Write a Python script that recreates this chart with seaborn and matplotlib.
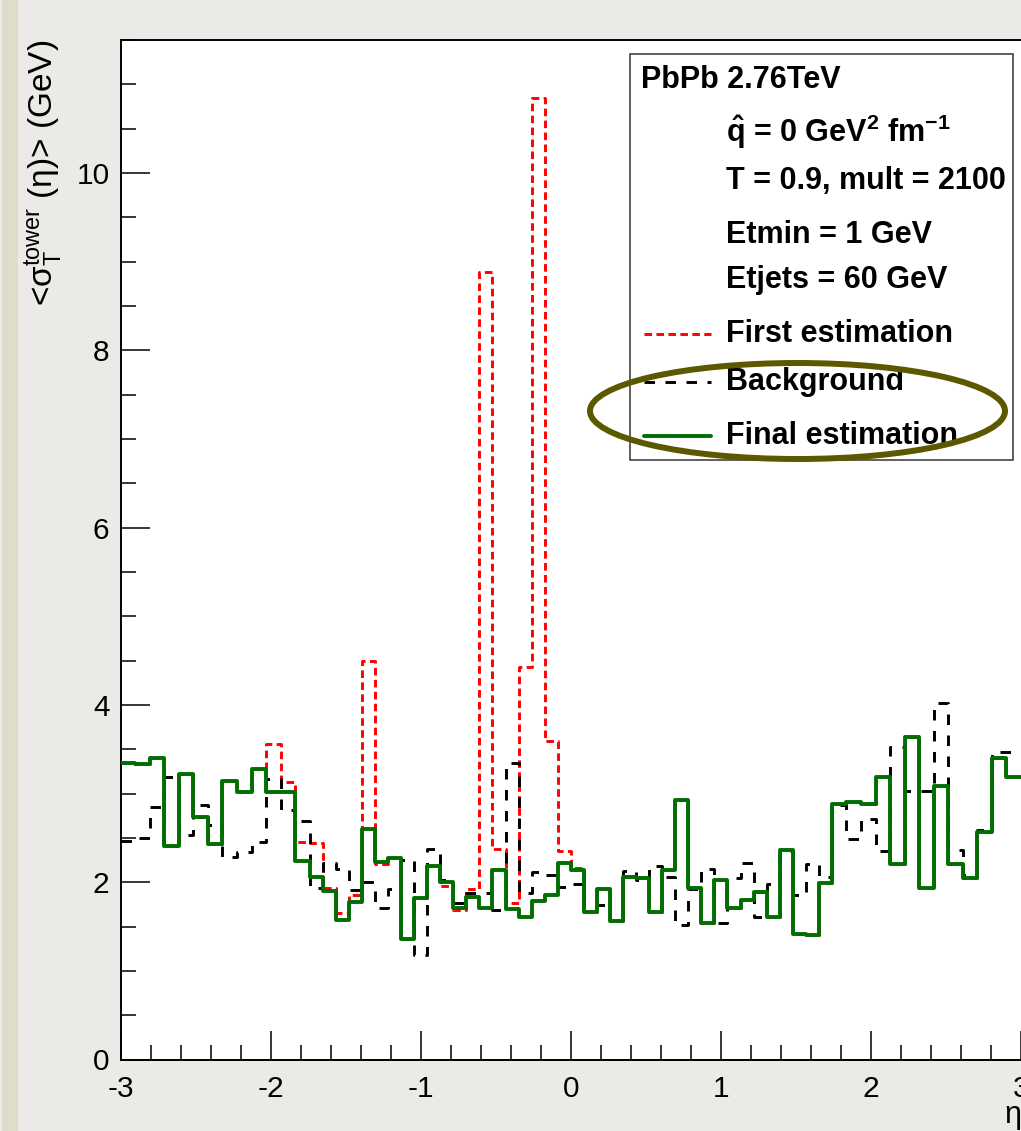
import numpy as np
import pandas as pd
import matplotlib
matplotlib.use("Agg")
import matplotlib.pyplot as plt
import seaborn as sns
from matplotlib.patches import Ellipse, Rectangle
from matplotlib.lines import Line2D
from matplotlib.ticker import MultipleLocator

# ---------------- data ----------------
# tower eta binning: 13 bins in each forward region, 40 central bins of 0.087
eta_edges = np.concatenate([
    np.linspace(-3.0, -1.74, 14),
    np.linspace(-1.74, 1.74, 41)[1:-1],
    np.linspace(1.74, 3.0, 14),
])

final_estimation = [
    3.35, 3.33, 3.40, 2.41, 3.22, 2.73, 2.43, 3.14, 3.02, 3.28,
    3.02, 3.02, 2.24, 2.06, 1.90, 1.57, 1.78, 2.60, 2.23, 2.27,
    1.36, 1.82, 2.18, 2.00, 1.71, 1.83, 1.71, 2.14, 1.70, 1.61,
    1.79, 1.85, 2.22, 2.14, 1.66, 1.92, 1.56, 2.06, 2.05, 1.66,
    2.14, 2.93, 1.93, 1.54, 2.02, 1.71, 1.80, 1.89, 1.61, 2.36,
    1.42, 1.41, 1.99, 2.88, 2.91, 2.88, 3.19, 2.20, 3.64, 1.93,
    3.09, 2.21, 2.05, 2.57, 3.40, 3.19,
]
first_estimation = [
    3.35, 3.33, 3.40, 2.41, 3.22, 2.73, 2.43, 3.14, 3.02, 3.28,
    3.56, 3.13, 2.45, 2.44, 1.93, 1.65, 1.85, 4.50, 2.21, 2.27,
    1.36, 1.82, 2.18, 1.96, 1.69, 1.92, 8.88, 2.38, 1.76, 4.43,
    10.85, 3.59, 2.35, 2.16, 1.66, 1.92, 1.56, 2.06, 2.05, 1.66,
    2.14, 2.93, 1.93, 1.54, 2.02, 1.71, 1.80, 1.89, 1.61, 2.36,
    1.42, 1.41, 1.99, 2.88, 2.91, 2.88, 3.19, 2.20, 3.64, 1.93,
    3.09, 2.21, 2.05, 2.57, 3.40, 3.19,
]
background = [
    2.46, 2.50, 2.85, 3.19, 2.53, 2.87, 2.64, 2.28, 2.34, 2.45,
    3.16, 2.82, 2.69, 1.94, 2.22, 2.15, 1.91, 2.00, 1.71, 1.92,
    2.25, 1.18, 2.38, 2.03, 1.76, 1.88, 1.88, 1.69, 3.35, 1.88,
    2.12, 2.08, 1.95, 1.98, 1.77, 1.74, 1.59, 2.13, 2.03, 2.18,
    2.06, 1.52, 1.92, 2.15, 1.54, 2.05, 2.22, 1.61, 1.98, 2.35,
    1.86, 2.20, 2.06, 2.87, 2.49, 2.71, 2.35, 3.52, 3.03, 3.03,
    4.02, 2.36, 2.08, 2.59, 3.47, 3.47,
]

x_ticks = [-3, -2, -1, 0, 1, 2, 3]
y_ticks = [0, 2, 4, 6, 8, 10]

legend_header = "PbPb 2.76TeV"
legend_info = [
    r"$\mathbf{\hat{q}}$ = 0 GeV$^{\mathbf{2}}$ fm$^{\mathbf{-1}}$",
    "T = 0.9, mult = 2100",
    "Etmin = 1 GeV",
    "Etjets = 60 GeV",
]
series_labels = ["First estimation", "Background", "Final estimation"]


def step_frame(values):
    # histogram outline: value of each bin held from its low edge to the next edge
    return pd.DataFrame({"eta": eta_edges, "value": list(values) + [values[-1]]})


# ---------------- style ----------------
sns.set_theme(style="white")
plt.rcParams["font.family"] = ["Liberation Sans", "DejaVu Sans"]
plt.rcParams["mathtext.fontset"] = "custom"
plt.rcParams["mathtext.rm"] = "Liberation Sans"
plt.rcParams["mathtext.it"] = "Liberation Sans:italic"
plt.rcParams["mathtext.bf"] = "Liberation Sans:bold"
plt.rcParams["mathtext.default"] = "regular"
plt.rcParams["axes.unicode_minus"] = False
plt.rcParams["text.color"] = "black"
plt.rcParams["axes.labelcolor"] = "black"
plt.rcParams["xtick.color"] = "black"
plt.rcParams["ytick.color"] = "black"

W, H = 1021, 1131
fig = plt.figure(figsize=(W / 100, H / 100), dpi=100)
fig.patch.set_facecolor("#ebeae6")


def fx(x):
    return x / W


def fy(y):
    return 1 - y / H


# left decorative strip of the page
fig.add_artist(Rectangle((fx(2), 0), fx(16), 1, transform=fig.transFigure,
                         facecolor="#e0dccc", edgecolor="none", zorder=0))

ax = fig.add_axes([fx(120.6), fy(1059.5), fx(1021.0 - 120.6), fy(40) - fy(1059.5)])
ax.set_facecolor("white")

red_style = dict(color="#ff0000", linewidth=2.1, linestyle=(0, (2.6, 1.5)))
black_style = dict(color="black", linewidth=2.1, linestyle=(0, (3.6, 3.6)))
green_style = dict(color="#006e00", linewidth=2.8, linestyle="-")

for vals, st, z in [(first_estimation, red_style, 2),
                    (background, black_style, 3),
                    (final_estimation, green_style, 4)]:
    sns.lineplot(data=step_frame(vals), x="eta", y="value", estimator=None, sort=False,
                 drawstyle="steps-post", ax=ax, zorder=z, legend=False, **st)

ax.set_xlim(-3, 3)
ax.set_ylim(0, 11.5)
ax.set_xticks(x_ticks)
ax.set_yticks(y_ticks)
ax.xaxis.set_minor_locator(MultipleLocator(0.2))
ax.yaxis.set_minor_locator(MultipleLocator(0.5))
ax.tick_params(axis="both", which="both", direction="in", bottom=True, left=True,
               top=False, right=False, colors="black")
ax.tick_params(axis="both", which="major", length=21, width=1.1, labelsize=21.5)
ax.tick_params(axis="both", which="minor", length=10.5, width=1.1)
ax.tick_params(axis="x", which="major", pad=11)
ax.tick_params(axis="y", which="major", pad=8)
ax.set_xlabel("")
ax.set_ylabel("")
for side in ["left", "bottom", "top"]:
    ax.spines[side].set_visible(True)
    ax.spines[side].set_color("black")
    ax.spines[side].set_linewidth(1.4)
ax.spines["right"].set_visible(False)

# axis titles (ROOT style, at the axis ends)
fig.text(fx(44), fy(40), r"<$\sigma_{T}^{tower}$ ($\eta$)> (GeV)", rotation=90,
         ha="center", va="top", fontsize=24)
fig.text(fx(1021), fy(1102), r"$\eta$", ha="right", va="top", fontsize=22)

# ---------------- legend box ----------------
fig.add_artist(Rectangle((fx(630), fy(460)), fx(1013 - 630), fy(54) - fy(460),
                         transform=fig.transFigure, facecolor="white",
                         edgecolor="#333333", linewidth=1.1, zorder=10))
fig.text(fx(641), fy(80), legend_header, ha="left", va="center", fontsize=22,
         fontweight="bold", zorder=11)
for txt, yy in zip(legend_info, [132, 181, 235, 280]):
    fig.text(fx(726), fy(yy), txt, ha="left", va="center", fontsize=22,
             fontweight="bold", zorder=11)
for lab, yy, st in zip(series_labels, [334, 382, 436], [red_style, black_style, green_style]):
    fig.add_artist(Line2D([fx(644), fx(711)], [fy(yy), fy(yy)],
                          transform=fig.transFigure, zorder=11, **st))
    fig.text(fx(726), fy(yy), lab, ha="left", va="center", fontsize=22,
             fontweight="bold", zorder=11)

# highlight ellipse
fig.add_artist(Ellipse((fx(797.5), fy(411)), fx(415), 96 / H, angle=0,
                       transform=fig.transFigure, facecolor="none",
                       edgecolor="#5c5800", linewidth=4.3, zorder=12))

fig.savefig("out.png", dpi=100, facecolor=fig.get_facecolor())
